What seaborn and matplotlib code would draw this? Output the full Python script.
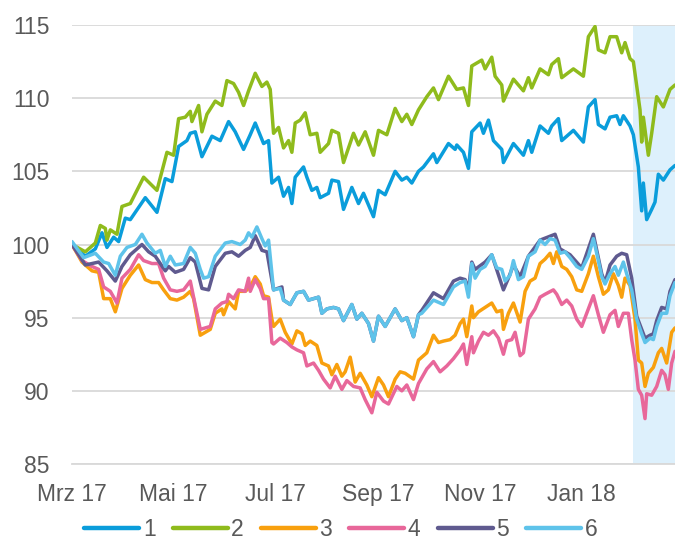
import matplotlib
matplotlib.use("Agg")
import matplotlib.pyplot as plt
from matplotlib.lines import Line2D
import seaborn as sns
import pandas as pd

days_1 = [0, 8, 14, 18, 21, 25, 28, 32, 35, 44, 51, 56, 60, 64, 69, 71, 74, 78, 84, 89, 94, 98, 103, 107, 110, 115, 118,
          120, 124, 127, 130, 132, 134, 139, 141, 144, 147, 149, 154, 156, 160, 163, 168, 172, 175, 181, 184, 188, 194,
          198, 201, 204, 208, 211, 217, 219, 226, 230, 231, 235, 238, 240, 245, 247, 250, 253, 258, 259, 265, 271, 274,
          276, 281, 286, 288, 292, 294, 301, 307, 310, 314, 316, 320, 323, 327, 329, 331, 335, 337, 340, 342, 343, 345,
          348, 350, 352, 355, 359, 362]
vals_1 = [100.0, 99.2, 99.7, 100.8, 99.8, 100.5, 100.2, 101.8, 101.7, 103.2, 102.2, 104.5, 104.3, 106.7, 107.1, 107.6,
          107.7, 106.0, 107.4, 107.1, 108.4, 107.7, 106.5, 107.5, 108.3, 106.9, 107.1, 104.2, 104.6, 103.3, 103.9, 102.8,
          104.6, 105.3, 104.6, 103.7, 103.9, 103.2, 103.5, 104.4, 104.3, 102.4, 103.9, 102.8, 103.5, 101.9, 103.7, 103.4,
          105.0, 104.4, 104.6, 104.2, 105.0, 105.3, 106.2, 105.6, 106.9, 106.5, 106.8, 106.3, 105.2, 107.7, 108.3, 107.6,
          108.5, 107.1, 106.5, 105.6, 106.9, 106.1, 107.1, 106.3, 108.1, 107.6, 108.1, 108.6, 107.1, 107.8, 107.0, 109.4,
          109.9, 108.2, 107.9, 108.7, 108.8, 108.2, 108.8, 108.1, 107.5, 105.3, 102.3, 104.2, 101.7, 102.4, 102.9, 104.8,
          104.4, 105.1, 105.4]

days_2 = [0, 8, 14, 17, 20, 21, 23, 27, 30, 35, 43, 51, 57, 61, 64, 68, 71, 72, 76, 78, 81, 86, 90, 93, 97, 100, 103,
          106, 110, 114, 117, 119, 121, 124, 127, 130, 132, 134, 137, 140, 143, 147, 149, 154, 156, 160, 163, 169, 172,
          176, 181, 184, 189, 194, 198, 201, 204, 208, 213, 217, 220, 226, 231, 235, 238, 240, 246, 248, 252, 254, 258,
          259, 265, 271, 274, 276, 281, 286, 288, 292, 294, 301, 307, 310, 314, 316, 320, 323, 327, 330, 332, 335, 337,
          341, 342, 343, 346, 348, 351, 355, 359, 362]
vals_2 = [100.0, 99.5, 100.1, 101.3, 101.1, 100.3, 101.0, 100.7, 102.6, 102.8, 104.6, 103.7, 106.3, 106.1, 108.6, 108.7,
          109.1, 108.4, 109.5, 107.7, 108.9, 109.8, 109.5, 111.2, 111.0, 110.4, 109.5, 110.5, 111.7, 110.8, 111.1, 110.6,
          107.6, 108.0, 106.6, 107.1, 106.3, 108.3, 108.5, 109.0, 107.5, 107.6, 106.3, 106.9, 107.8, 107.6, 105.6, 107.6,
          106.8, 107.7, 106.1, 107.8, 107.5, 109.3, 108.4, 108.9, 108.2, 109.2, 110.1, 110.7, 109.9, 111.5, 110.6, 110.7,
          109.5, 112.2, 112.6, 112.0, 112.8, 111.5, 110.9, 109.8, 111.3, 110.5, 111.4, 110.7, 112.0, 111.6, 112.3, 112.7,
          111.4, 112.0, 111.5, 114.2, 114.9, 113.3, 113.1, 114.2, 114.2, 113.1, 113.8, 112.7, 112.5, 109.2, 107.0, 108.7,
          106.1, 107.6, 110.1, 109.4, 110.6, 110.9]

days_3 = [0, 6, 12, 16, 19, 23, 26, 30, 35, 40, 44, 48, 52, 55, 59, 63, 67, 71, 73, 77, 80, 83, 86, 90, 91, 94, 98,
          100, 104, 107, 110, 113, 115, 118, 120, 121, 125, 128, 132, 135, 138, 140, 143, 147, 150, 154, 156, 159, 162,
          164, 167, 170, 173, 177, 180, 184, 187, 190, 194, 197, 200, 205, 208, 213, 217, 220, 223, 227, 230, 233, 235,
          237, 240, 241, 244, 248, 252, 255, 258, 259, 262, 265, 269, 272, 275, 278, 281, 284, 287, 289, 291, 294, 297,
          300, 303, 306, 310, 313, 316, 319, 322, 325, 328, 330, 332, 335, 338, 340, 342, 344, 346, 349, 352, 354, 357,
          360, 362]
vals_3 = [100.0, 98.8, 98.2, 98.1, 96.3, 96.3, 95.4, 97.0, 97.9, 98.6, 97.6, 97.4, 97.4, 96.9, 96.3, 96.2, 96.4, 96.8,
          96.3, 93.8, 94.0, 94.2, 95.3, 95.6, 95.2, 96.1, 95.6, 96.8, 96.8, 97.1, 97.8, 97.3, 96.5, 96.4, 94.9, 94.4,
          94.9, 94.0, 93.2, 94.1, 93.9, 93.1, 93.4, 93.1, 91.9, 91.7, 91.1, 91.8, 91.0, 91.3, 92.3, 90.6, 91.2, 90.4,
          89.6, 90.9, 90.4, 89.6, 90.8, 91.3, 91.2, 90.8, 92.1, 92.6, 93.8, 93.3, 93.4, 93.5, 93.8, 94.6, 94.9, 93.7,
          95.8, 95.0, 95.4, 95.7, 96.0, 95.4, 95.5, 94.2, 95.3, 96.0, 94.7, 96.8, 97.5, 97.7, 98.7, 99.0, 99.4, 98.7,
          99.5, 98.5, 98.3, 97.8, 96.9, 96.8, 98.0, 99.2, 97.8, 96.6, 96.9, 98.0, 97.2, 96.4, 97.7, 97.2, 94.9, 92.1,
          91.9, 90.3, 91.2, 91.6, 92.6, 92.9, 91.9, 94.0, 94.3]

days_4 = [0, 6, 12, 16, 19, 23, 27, 30, 35, 40, 43, 48, 52, 55, 59, 63, 67, 71, 73, 77, 80, 83, 86, 90, 93, 94, 97,
          100, 104, 106, 107, 110, 113, 115, 118, 120, 121, 125, 129, 132, 135, 139, 141, 145, 148, 151, 155, 158, 162,
          165, 169, 173, 176, 180, 183, 187, 190, 195, 198, 201, 205, 208, 213, 217, 221, 225, 229, 233, 235, 237, 240,
          241, 244, 247, 250, 253, 256, 259, 261, 264, 266, 269, 271, 274, 278, 281, 284, 289, 291, 294, 297, 300, 303,
          306, 310, 313, 316, 319, 323, 326, 328, 331, 334, 336, 338, 340, 342, 344, 345, 348, 351, 354, 356, 358, 360,
          362]
vals_4 = [100.0, 98.9, 98.5, 98.3, 97.1, 96.8, 96.0, 97.7, 98.3, 99.3, 98.9, 98.7, 98.7, 97.7, 96.9, 96.8, 96.9, 97.5,
          96.4, 94.2, 94.3, 94.4, 95.6, 96.0, 96.1, 96.6, 96.3, 96.9, 96.8, 97.7, 96.8, 97.6, 97.0, 96.3, 96.3, 93.3,
          93.2, 93.6, 93.3, 93.0, 92.8, 92.6, 91.7, 91.9, 91.4, 90.8, 90.2, 91.0, 90.1, 90.7, 90.3, 90.2, 89.4, 88.5,
          89.9, 89.3, 89.1, 90.3, 90.0, 90.4, 89.4, 90.5, 91.5, 92.0, 91.3, 91.7, 92.2, 92.8, 93.2, 91.8, 93.7, 92.6,
          93.4, 94.0, 93.8, 94.1, 93.6, 92.5, 93.4, 93.5, 94.0, 92.4, 92.6, 94.9, 95.6, 96.4, 96.6, 96.9, 96.6, 95.9,
          96.2, 95.8, 94.9, 94.4, 95.6, 96.5, 95.2, 94.0, 95.2, 95.5, 94.4, 95.3, 95.3, 93.5, 92.1, 90.1, 89.7, 88.1,
          89.8, 89.7, 90.3, 91.4, 91.1, 90.1, 91.9, 92.7]

days_5 = [0, 8, 16, 21, 26, 30, 35, 42, 46, 50, 56, 58, 62, 67, 71, 74, 78, 82, 86, 92, 96, 100, 104, 107, 110, 114,
          117, 121, 126, 127, 131, 135, 139, 142, 145, 148, 150, 153, 157, 160, 163, 168, 171, 174, 178, 181, 184, 188,
          194, 198, 201, 205, 208, 210, 217, 223, 229, 233, 236, 238, 240, 242, 248, 252, 259, 262, 265, 269, 274, 281,
          290, 293, 299, 306, 313, 318, 320, 323, 327, 330, 333, 336, 339, 342, 344, 347, 349, 351, 354, 357, 359, 362]
vals_5 = [100.0, 98.6, 98.8, 98.2, 97.5, 98.5, 99.3, 100.0, 99.5, 99.2, 98.2, 98.5, 98.1, 98.3, 99.1, 98.8, 97.0, 96.9,
          98.5, 99.4, 99.5, 99.2, 99.6, 99.8, 100.6, 99.6, 99.5, 96.9, 97.1, 96.2, 95.9, 96.7, 96.8, 96.2, 96.3, 96.4,
          95.3, 95.6, 95.7, 95.6, 94.8, 95.9, 94.9, 95.3, 94.6, 93.4, 95.1, 94.4, 95.6, 94.8, 95.0, 93.7, 95.2, 95.5,
          96.7, 96.3, 97.5, 97.7, 97.6, 96.9, 98.8, 98.3, 98.8, 99.3, 96.9, 97.7, 98.6, 97.8, 99.2, 100.3, 100.7, 99.7,
          99.3, 98.4, 100.7, 98.0, 97.4, 98.6, 99.2, 99.4, 99.3, 97.7, 95.1, 94.2, 93.6, 93.8, 93.9, 94.8, 95.7, 95.6,
          96.8, 97.6]

days_6 = [0, 7, 14, 19, 22, 26, 29, 33, 38, 42, 45, 50, 53, 56, 59, 62, 67, 71, 74, 77, 79, 82, 86, 92, 96, 101, 104,
          106, 108, 111, 114, 116, 118, 121, 125, 127, 131, 135, 139, 142, 145, 148, 150, 153, 157, 160, 163, 168, 171,
          174, 178, 181, 184, 188, 194, 198, 201, 205, 208, 210, 217, 223, 229, 233, 236, 238, 240, 242, 245, 248, 252,
          255, 258, 260, 263, 265, 268, 271, 274, 278, 281, 284, 287, 290, 293, 296, 299, 303, 306, 310, 313, 316, 318,
          320, 323, 326, 328, 331, 333, 336, 339, 342, 344, 347, 349, 351, 354, 357, 359, 362]
vals_6 = [100.2, 99.1, 99.4, 98.8, 98.7, 97.9, 99.2, 99.8, 100.0, 100.7, 100.1, 99.4, 99.6, 98.5, 99.2, 98.6, 98.7,
          99.8, 99.4, 98.3, 97.7, 97.8, 99.2, 100.1, 100.2, 100.0, 100.3, 100.8, 100.5, 101.2, 100.4, 99.9, 100.3, 96.9,
          97.0, 96.2, 95.9, 96.7, 96.8, 96.2, 96.3, 96.4, 95.3, 95.6, 95.7, 95.6, 94.8, 95.9, 94.9, 95.3, 94.6, 93.4,
          95.1, 94.4, 95.6, 94.8, 95.0, 93.7, 95.2, 95.3, 96.2, 95.9, 97.1, 97.4, 97.5, 96.4, 98.7, 97.7, 98.3, 98.5,
          99.3, 98.4, 98.3, 97.5, 97.9, 98.9, 97.6, 97.8, 99.2, 99.5, 100.3, 100.0, 100.4, 100.3, 99.4, 99.5, 99.1, 98.5,
          98.3, 99.2, 100.4, 98.9, 97.8, 97.3, 98.0, 98.5, 97.9, 98.8, 98.0, 96.9, 94.9, 93.9, 93.3, 93.6, 93.5, 94.4,
          95.3, 95.3, 96.5, 97.4]

series_names = ["1", "2", "3", "4", "5", "6"]
colors = ["#0A9DDB", "#8FBB1C", "#F8A00E", "#E8679A", "#5F5A8F", "#5EC3EA"]
tick_labels = ["Mrz 17", "Mai 17", "Jul 17", "Sep 17", "Nov 17", "Jan 18"]
tick_dates = ["2017-03-01", "2017-05-01", "2017-07-01", "2017-09-01", "2017-11-01", "2018-01-01"]
start = pd.Timestamp("2017-03-01")

frames = []
for name, d, v in zip(series_names, [days_1, days_2, days_3, days_4, days_5, days_6],
                      [vals_1, vals_2, vals_3, vals_4, vals_5, vals_6]):
    frames.append(pd.DataFrame({"date": start + pd.to_timedelta(d, unit="D"), "value": v, "serie": name}))
df = pd.concat(frames, ignore_index=True)

sns.set_style("white")
plt.rcParams["font.family"] = ["Liberation Sans", "DejaVu Sans"]

fig = plt.figure(figsize=(6.75, 5.43), dpi=100)
ax = fig.add_axes([72 / 675, 1 - 464 / 543, 1 - 72 / 675, (464 - 25) / 543])

# Markierter Bereich ab Februar 2018
ax.axvspan(pd.Timestamp("2018-02-01"), pd.Timestamp("2018-03-05"), color="#DDF0FC", lw=0, zorder=0)

sns.lineplot(data=df, x="date", y="value", hue="serie", palette=colors, estimator=None, sort=False,
             linewidth=2.5, ax=ax, legend=False, zorder=3)

ax.set_xlim(start, pd.Timestamp("2018-02-26"))
ax.set_ylim(85, 115)
ax.set_yticks([85, 90, 95, 100, 105, 110, 115])
ax.set_xticks(pd.to_datetime(tick_dates))
ax.set_xticklabels(tick_labels)
ax.set_xlabel("")
ax.set_ylabel("")
ax.grid(axis="y", color="#D9D9D9", lw=1.3, zorder=1)
ax.set_axisbelow(True)
for s in ["left", "right", "top"]:
    ax.spines[s].set_visible(False)
ax.spines["bottom"].set_color("#D9D9D9")
ax.spines["bottom"].set_linewidth(1.3)
ax.tick_params(axis="x", length=5, width=1.1, color="#D9D9D9", labelsize=16.5, labelcolor="#595959", pad=9)
ax.tick_params(axis="y", length=0, labelsize=16.5, labelcolor="#595959", pad=16)

handles = [Line2D([0], [0], color=c, lw=3.2) for c in colors]
fig.legend(handles, series_names, loc="center", bbox_to_anchor=(0.505, 0.025), ncol=6, frameon=False,
           fontsize=16.5, handlelength=2.4, handletextpad=0.15, columnspacing=0.75, borderpad=0,
           labelcolor="#595959")

fig.savefig("out.png", dpi=100)
